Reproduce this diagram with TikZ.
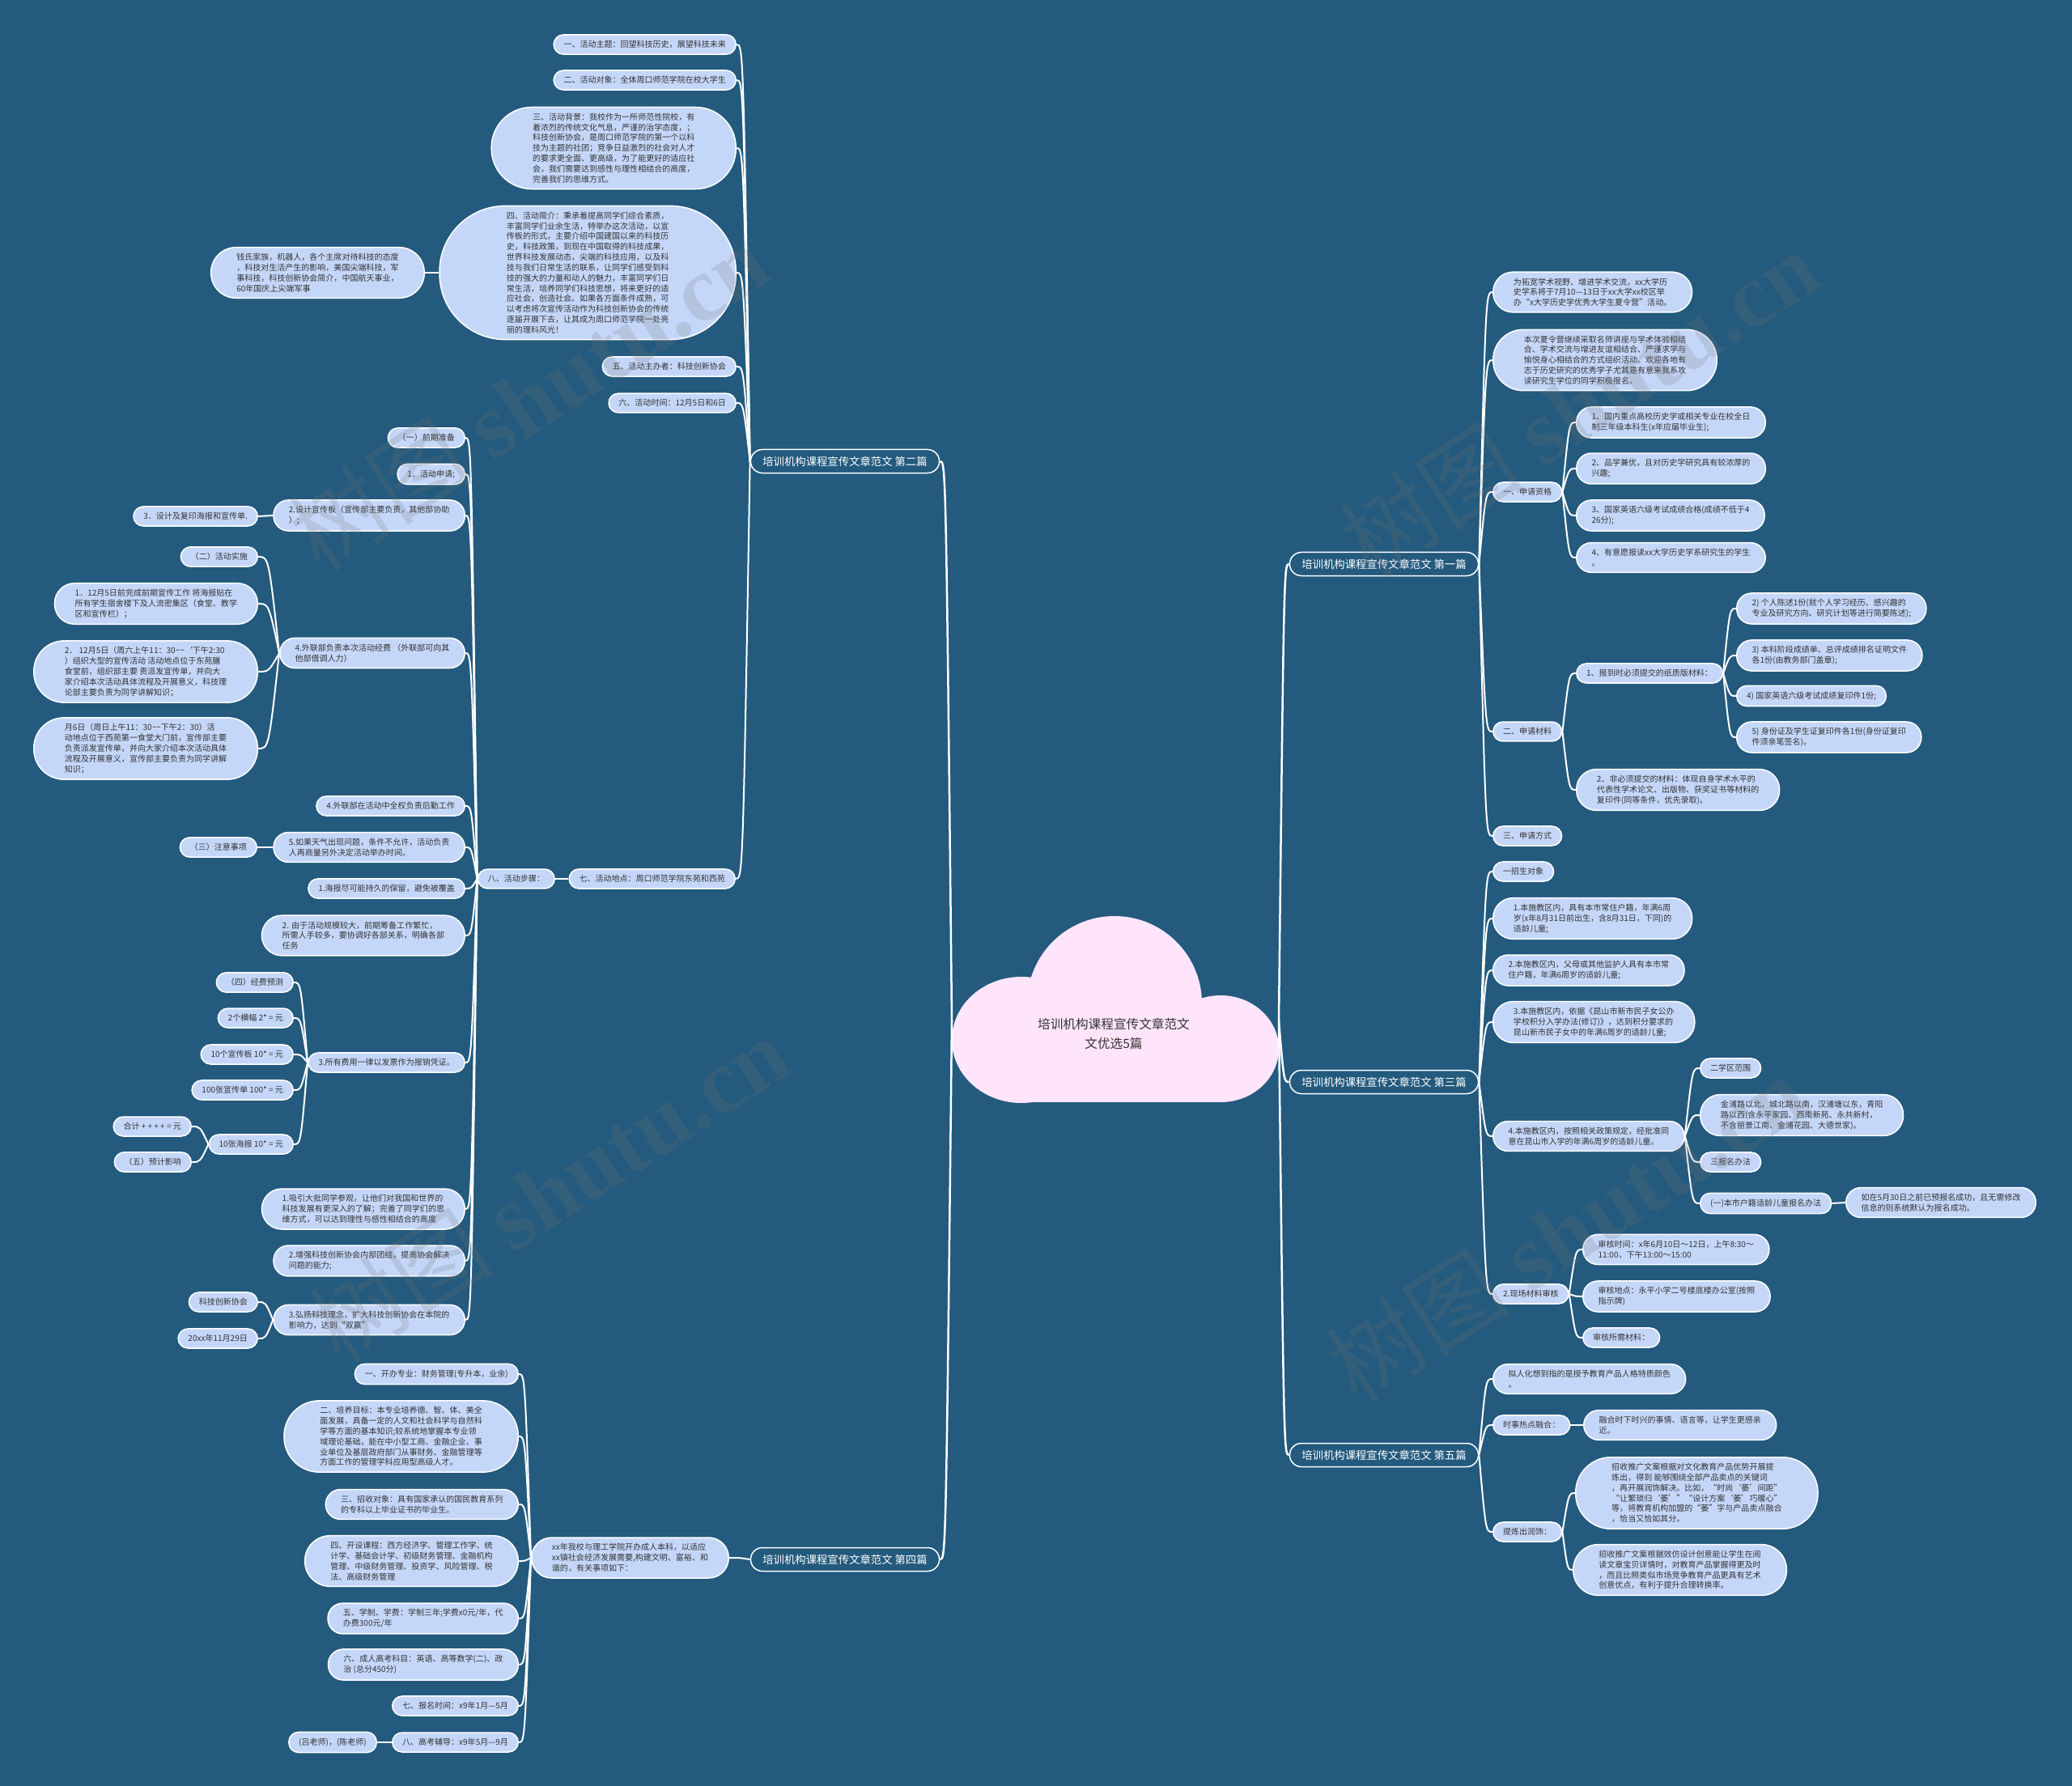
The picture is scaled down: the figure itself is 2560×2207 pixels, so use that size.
\documentclass[tikz,border=0pt]{standalone}
\usepackage{fontspec}
\setmainfont{Noto Sans CJK SC}
\newfontfamily\wmserif{Liberation Serif}
\usetikzlibrary{calc}
\definecolor{bgblue}{HTML}{235A7E}
\definecolor{leaffill}{HTML}{C5D7F9}
\definecolor{textgray}{HTML}{333333}
\definecolor{cloudpink}{HTML}{FFE5FB}
\newcommand\leaffont{\fontsize{5.7pt}{7.3pt}\selectfont}
\newcommand\branchfont{\fontsize{7.6pt}{9pt}\selectfont}
\newcommand\rootfont{\fontsize{8.9pt}{13.6pt}\selectfont}
% curved links: parent on the right (joinL) or on the left (joinR)
\newcommand\joinL[2]{\draw[conn] (#1.west) .. controls ($(#1.west |- #2.east)!0.5!(#2.east)$) .. (#2.east);}
\newcommand\joinR[2]{\draw[conn] (#1.east) .. controls ($(#1.east |- #2.west)!0.5!(#2.west)$) .. (#2.west);}
\begin{document}
\begin{tikzpicture}[x=0.2mm,y=-0.2mm,
  leaf/.style={rectangle, draw=white, line width=0.3mm, fill=leaffill,
    text=textgray, font=\leaffont, align=left, inner ysep=4.2pt,
    inner xsep={(7.3pt*#1+6.8pt)/2}, rounded corners={0.49*(7.3pt*#1+6.8pt)}},
  leaf/.default=1,
  branch/.style={rectangle, draw=white, line width=0.3mm, fill=bgblue,
    text=white, font=\branchfont, inner ysep=4.7pt, inner xsep=8.5pt, rounded corners=8.3pt},
  conn/.style={draw=white, line width=0.4mm},
  wmark/.style={text=black!55, opacity=0.2, font=\fontsize{65pt}{70pt}\selectfont, rotate=33}]
  \fill[bgblue] (0,0) rectangle (2560,2207);
  \useasboundingbox (0,0) rectangle (2560,2207);

  % centre cloud
  \fill[cloudpink] (1377,1240) circle [radius=108];
  \fill[cloudpink] (1262,1285) ellipse [x radius=86, y radius=78];
  \fill[cloudpink] (1508,1296) ellipse [x radius=72, y radius=66];
  \fill[cloudpink] (1262,1240) rectangle (1508,1362);
  \node[font=\rootfont, text=textgray, align=center] (root) at (1376,1277) {培训机构课程宣传文章范文\\文优选5篇};
  \coordinate (rootL) at (1176,1262);
  \coordinate (rootR) at (1580,1262);

  % branches
  \node[branch] (b2) at (1044,570) {培训机构课程宣传文章范文 第二篇};
  \node[branch] (b4) at (1044,1927) {培训机构课程宣传文章范文 第四篇};
  \node[branch] (b1) at (1710,697) {培训机构课程宣传文章范文 第一篇};
  \node[branch] (b3) at (1710,1337) {培训机构课程宣传文章范文 第三篇};
  \node[branch] (b5) at (1710,1798) {培训机构课程宣传文章范文 第五篇};

  % 第二篇
  \node[leaf,anchor=east] (t1) at (910,55) {一、活动主题：回望科技历史，展望科技未来};
  \node[leaf,anchor=east] (t2) at (910,99) {二、活动对象：全体周口师范学院在校大学生};
  \node[leaf=7,anchor=east] (t3) at (910,183) {三、活动背景：我校作为一所师范性院校，有\\着浓烈的传统文化气息，严谨的治学态度，；\\科技创新协会，是周口师范学院的第一个以科\\技为主题的社团；竞争日益激烈的社会对人才\\的要求更全面、更高级，为了能更好的适应社\\会，我们需要达到感性与理性相结合的高度，\\完善我们的思维方式。};
  \node[leaf=12,anchor=east] (t4) at (910,337) {四、活动简介：秉承着提高同学们综合素质，\\丰富同学们业余生活，特举办这次活动，以宣\\传板的形式，主要介绍中国建国以来的科技历\\史，科技政策，到现在中国取得的科技成果，\\世界科技发展动态，尖端的科技应用，以及科\\技与我们日常生活的联系，让同学们感受到科\\技的强大的力量和动人的魅力，丰富同学们日\\常生活，培养同学们科技思想，将来更好的适\\应社会，创造社会。如果各方面条件成熟，可\\以考虑将次宣传活动作为科技创新协会的传统\\逐届开展下去，让其成为周口师范学院一处亮\\丽的理科风光！};
  \node[leaf=4,anchor=east] (q4) at (525,337) {钱氏家族，机器人，各个主席对待科技的态度\\，科技对生活产生的影响，美国尖端科技，军\\事科技，科技创新协会简介，中国航天事业，\\60年国庆上尖端军事};
  \node[leaf,anchor=east] (t5) at (910,453) {五、活动主办者：科技创新协会};
  \node[leaf,anchor=east] (t6) at (910,498) {六、活动时间：12月5日和6日};
  \node[leaf,anchor=east] (t7) at (909,1086) {七、活动地点：周口师范学院东苑和西苑};
  \node[leaf,anchor=east] (s8) at (686,1086) {八、活动步骤：};

  \node[leaf,anchor=east] (p1) at (575,541) {（一）前期准备};
  \node[leaf,anchor=east] (p2) at (575,586) {1．活动申请;};
  \node[leaf=2,anchor=east] (p3) at (575,637) {2.设计宣传板（宣传部主要负责，其他部协助\\）;};
  \node[leaf,anchor=east] (p3a) at (319,638) {3．设计及复印海报和宣传单.};
  \node[leaf=2,anchor=east] (p4) at (575,807) {4.外联部负责本次活动经费 （外联部可向其\\他部借调人力）};
  \node[leaf,anchor=east] (p4a) at (319,688) {（二）活动实施};
  \node[leaf=3,anchor=east] (p4b) at (319,746) {1．12月5日前完成前期宣传工作 将海报贴在\\所有学生宿舍楼下及人流密集区（食堂、教学\\区和宣传栏）；};
  \node[leaf=5,anchor=east] (p4c) at (319,830) {2． 12月5日（周六上午11：30\textasciitilde\textasciitilde\symbol{96}下午2:30\\）组织大型的宣传活动 活动地点位于东苑膳\\食堂前，组织部主要 责派发宣传单，并向大\\家介绍本次活动具体流程及开展意义，科技理\\论部主要负责为同学讲解知识；};
  \node[leaf=5,anchor=east] (p4d) at (319,925) {月6日（周日上午11：30\textasciitilde\textasciitilde 下午2：30）活\\动地点位于西苑第一食堂大门前，宣传部主要\\负责派发宣传单，并向大家介绍本次活动具体\\流程及开展意义，宣传部主要负责为同学讲解\\知识；};
  \node[leaf,anchor=east] (p5) at (575,996) {4.外联部在活动中全权负责后勤工作};
  \node[leaf=2,anchor=east] (p6) at (575,1047) {5.如果天气出现问题，条件不允许，活动负责\\人再商量另外决定活动举办时间。};
  \node[leaf,anchor=east] (p6a) at (318,1047) {（三）注意事项};
  \node[leaf,anchor=east] (p7) at (575,1098) {1.海报尽可能持久的保留，避免被覆盖};
  \node[leaf=3,anchor=east] (p8) at (575,1156) {2. 由于活动规模较大，前期筹备工作繁忙，\\所需人手较多，要协调好各部关系，明确各部\\任务};
  \node[leaf,anchor=east] (p9) at (575,1313) {3.所有费用一律以发票作为报销凭证。};
  \node[leaf,anchor=east] (p9a) at (363,1214) {（四）经费预测};
  \node[leaf,anchor=east] (p9b) at (363,1258) {2个横幅 2* = 元};
  \node[leaf,anchor=east] (p9c) at (363,1303) {10个宣传板 10* = 元};
  \node[leaf,anchor=east] (p9d) at (363,1347) {100张宣传单 100* = 元};
  \node[leaf,anchor=east] (p9e) at (363,1414) {10张海报 10* = 元};
  \node[leaf,anchor=east] (p9f) at (237,1392) {合计 + + + + = 元};
  \node[leaf,anchor=east] (p9g) at (237,1436) {（五）预计影响};
  \node[leaf=3,anchor=east] (p10) at (575,1494) {1.吸引大批同学参观，让他们对我国和世界的\\科技发展有更深入的了解；完善了同学们的思\\维方式，可以达到理性与感性相结合的高度};
  \node[leaf=2,anchor=east] (p11) at (575,1558) {2.增强科技创新协会内部团结，提高协会解决\\问题的能力;};
  \node[leaf=2,anchor=east] (p12) at (575,1631) {3.弘扬科技理念，扩大科技创新协会在本院的\\影响力，达到“双赢”};
  \node[leaf,anchor=east] (p12a) at (319,1609) {科技创新协会};
  \node[leaf,anchor=east] (p12b) at (319,1654) {20xx年11月29日};

  % 第四篇
  \node[leaf=3,anchor=east] (f0) at (901,1925) {xx年我校与理工学院开办成人本科，以适应\\xx镇社会经济发展需要,构建文明、富裕、和\\谐的，有关事项如下：};
  \node[leaf,anchor=east] (f1) at (641,1698) {一、开办专业：财务管理(专升本，业余)};
  \node[leaf=6,anchor=east] (f2) at (641,1775) {二、培养目标：本专业培养德、智、体、美全\\面发展，具备一定的人文和社会科学与自然科\\学等方面的基本知识;较系统地掌握本专业领\\域理论基础，能在中小型工商、金融企业、事\\业单位及基层政府部门从事财务、金融管理等\\方面工作的管理学科应用型高级人才。};
  \node[leaf=2,anchor=east] (f3) at (641,1859) {三、招收对象：具有国家承认的国民教育系列\\的专科以上毕业证书的毕业生。};
  \node[leaf=4,anchor=east] (f4) at (641,1929) {四、开设课程：西方经济学、管理工作学、统\\计学、基础会计学、初级财务管理、金融机构\\管理、中级财务管理、投资学、风险管理、税\\法、高级财务管理};
  \node[leaf=2,anchor=east] (f5) at (641,2000) {五、学制、学费：学制三年;学费x0元/年，代\\办费300元/年};
  \node[leaf=2,anchor=east] (f6) at (641,2057) {六、成人高考科目：英语、高等数学(二)、政\\治 (总分450分)};
  \node[leaf,anchor=east] (f7) at (641,2108) {七、报名时间：x9年1月—5月};
  \node[leaf,anchor=east] (f8) at (641,2153) {八、高考辅导：x9年5月—9月};
  \node[leaf,anchor=east] (f8a) at (466,2153) {(吕老师)，(陈老师)};

  % 第一篇
  \node[leaf=3,anchor=west] (r1) at (1844,361) {为拓宽学术视野、增进学术交流，xx大学历\\史学系将于7月10—13日于xx大学xx校区举\\办“x大学历史学优秀大学生夏令营”活动。};
  \node[leaf=5,anchor=west] (r2) at (1844,445) {本次夏令营继续采取名师讲座与学术体验相结\\合、学术交流与增进友谊相结合、严谨求学与\\愉悦身心相结合的方式组织活动。欢迎各地有\\志于历史研究的优秀学子尤其是有意来我系攻\\读研究生学位的同学积极报名。};
  \node[leaf,anchor=west] (r3) at (1844,608) {一、申请资格};
  \node[leaf=2,anchor=west] (r3a) at (1947,522) {1、国内重点高校历史学或相关专业在校全日\\制三年级本科生(x年应届毕业生);};
  \node[leaf=2,anchor=west] (r3b) at (1947,579) {2、品学兼优，且对历史学研究具有较浓厚的\\兴趣;};
  \node[leaf=2,anchor=west] (r3c) at (1947,637) {3、国家英语六级考试成绩合格(成绩不低于4\\26分);};
  \node[leaf=2,anchor=west] (r3d) at (1947,689) {4、有意愿报读xx大学历史学系研究生的学生\\。};
  \node[leaf,anchor=west] (r4) at (1844,904) {二、申请材料};
  \node[leaf,anchor=west] (r4a) at (1947,832) {1、报到时必须提交的纸质版材料：};
  \node[leaf=2,anchor=west] (r4a1) at (2145,752) {2) 个人陈述1份(就个人学习经历、感兴趣的\\专业及研究方向、研究计划等进行简要陈述);};
  \node[leaf=2,anchor=west] (r4a2) at (2145,810) {3) 本科阶段成绩单、总评成绩排名证明文件\\各1份(由教务部门盖章);};
  \node[leaf,anchor=west] (r4a3) at (2145,860) {4) 国家英语六级考试成绩复印件1份;};
  \node[leaf=2,anchor=west] (r4a4) at (2145,911) {5) 身份证及学生证复印件各1份(身份证复印\\件须亲笔签名)。};
  \node[leaf=3,anchor=west] (r4b) at (1947,976) {2、非必须提交的材料：体现自身学术水平的\\代表性学术论文、出版物、获奖证书等材料的\\复印件(同等条件，优先录取)。};
  \node[leaf,anchor=west] (r5) at (1844,1033) {三、申请方式};

  % 第三篇
  \node[leaf,anchor=west] (u1) at (1844,1077) {一招生对象};
  \node[leaf=3,anchor=west] (u2) at (1844,1135) {1.本施教区内，具有本市常住户籍，年满6周\\岁(x年8月31日前出生，含8月31日，下同)的\\适龄儿童;};
  \node[leaf=2,anchor=west] (u3) at (1844,1199) {2.本施教区内，父母或其他监护人具有本市常\\住户籍，年满6周岁的适龄儿童;};
  \node[leaf=3,anchor=west] (u4) at (1844,1263) {3.本施教区内，依据《昆山市新市民子女公办\\学校积分入学办法(修订)》，达到积分要求的\\昆山新市民子女中的年满6周岁的适龄儿童;};
  \node[leaf=2,anchor=west] (u5) at (1844,1404) {4.本施教区内，按照相关政策规定，经批准同\\意在昆山市入学的年满6周岁的适龄儿童。};
  \node[leaf,anchor=west] (u5a) at (2100,1320) {二学区范围};
  \node[leaf=3,anchor=west] (u5b) at (2100,1378) {金浦路以北，城北路以南，汉浦塘以东，青阳\\路以西(含永平家园、西南新苑、永共新村，\\不含丽景江南、金浦花园、大德世家)。};
  \node[leaf,anchor=west] (u5c) at (2100,1436) {三报名办法};
  \node[leaf,anchor=west] (u5d) at (2100,1487) {(一)本市户籍适龄儿童报名办法};
  \node[leaf=2,anchor=west] (u5e) at (2280,1486) {如在5月30日之前已预报名成功，且无需修改\\信息的则系统默认为报名成功。};
  \node[leaf,anchor=west] (u6) at (1844,1599) {2.现场材料审核};
  \node[leaf=2,anchor=west] (u6a) at (1955,1544) {审核时间：x年6月10日～12日，上午8:30～\\11:00，下午13:00～15:00};
  \node[leaf=2,anchor=west] (u6b) at (1955,1602) {审核地点：永平小学二号楼底楼办公室(按照\\指示牌)};
  \node[leaf,anchor=west] (u6c) at (1955,1653) {审核所需材料：};

  % 第五篇
  \node[leaf=2,anchor=west] (v1) at (1844,1704) {拟人化想到指的是授予教育产品人格特质颜色\\。};
  \node[leaf,anchor=west] (v2) at (1844,1761) {时事热点融合：};
  \node[leaf=2,anchor=west] (v2a) at (1956,1761) {融合时下时兴的事情、语言等，让学生更感亲\\近。};
  \node[leaf,anchor=west] (v3) at (1844,1893) {提炼出润饰：};
  \node[leaf=6,anchor=west] (v3a) at (1946,1845) {招收推广文案根据对文化教育产品优势开展提\\炼出，得到 能够围绕全部产品卖点的关键词\\，再开展润饰解决。比如，“时尚‘萎’间距”\\“让繁琐归‘萎’”“设计方案‘萎’巧暖心”\\等，将教育机构加盟的“萎”字与产品卖点融合\\，恰当又恰如其分。};
  \node[leaf=4,anchor=west] (v3b) at (1943,1940) {招收推广文案根据效仿设计创意能让学生在阅\\读文章宝贝详情时，对教育产品掌握得更及时\\，而且比照类似市场竞争教育产品更具有艺术\\创意优点，有利于提升合理转换率。};

  % links
  \foreach \b in {b2,b4}
    \draw[conn, line width=0.5mm] (rootL) .. controls ($(rootL |- \b.east)!0.5!(\b.east)$) .. (\b.east);
  \foreach \b in {b1,b3,b5}
    \draw[conn, line width=0.5mm] (rootR) .. controls ($(rootR |- \b.west)!0.5!(\b.west)$) .. (\b.west);
  \foreach \c in {t1,t2,t3,t4,t5,t6,t7} {\joinL{b2}{\c}}
  \joinL{t4}{q4}
  \joinL{t7}{s8}
  \foreach \c in {p1,p2,p3,p4,p5,p6,p7,p8,p9,p10,p11,p12} {\joinL{s8}{\c}}
  \joinL{p3}{p3a}
  \foreach \c in {p4a,p4b,p4c,p4d} {\joinL{p4}{\c}}
  \joinL{p6}{p6a}
  \foreach \c in {p9a,p9b,p9c,p9d,p9e} {\joinL{p9}{\c}}
  \foreach \c in {p9f,p9g} {\joinL{p9e}{\c}}
  \foreach \c in {p12a,p12b} {\joinL{p12}{\c}}
  \joinL{b4}{f0}
  \foreach \c in {f1,f2,f3,f4,f5,f6,f7,f8} {\joinL{f0}{\c}}
  \joinL{f8}{f8a}
  \foreach \c in {r1,r2,r3,r4,r5} {\joinR{b1}{\c}}
  \foreach \c in {r3a,r3b,r3c,r3d} {\joinR{r3}{\c}}
  \foreach \c in {r4a,r4b} {\joinR{r4}{\c}}
  \foreach \c in {r4a1,r4a2,r4a3,r4a4} {\joinR{r4a}{\c}}
  \foreach \c in {u1,u2,u3,u4,u5,u6} {\joinR{b3}{\c}}
  \foreach \c in {u5a,u5b,u5c,u5d} {\joinR{u5}{\c}}
  \joinR{u5d}{u5e}
  \foreach \c in {u6a,u6b,u6c} {\joinR{u6}{\c}}
  \foreach \c in {v1,v2,v3} {\joinR{b5}{\c}}
  \joinR{v2}{v2a}
  \foreach \c in {v3a,v3b} {\joinR{v3}{\c}}

  % watermarks
  \node[wmark] (w1) at (653,490) {树图 {\wmserif\bfseries shutu.cn}};
  \node[wmark] (w2) at (678,1469) {树图 {\wmserif\bfseries shutu.cn}};
  \node[wmark] (w3) at (1951,498) {树图 {\wmserif\bfseries shutu.cn}};
  \node[wmark] (w4) at (1935,1518) {树图 {\wmserif\bfseries shutu.cn}};
\end{tikzpicture}
\end{document}
